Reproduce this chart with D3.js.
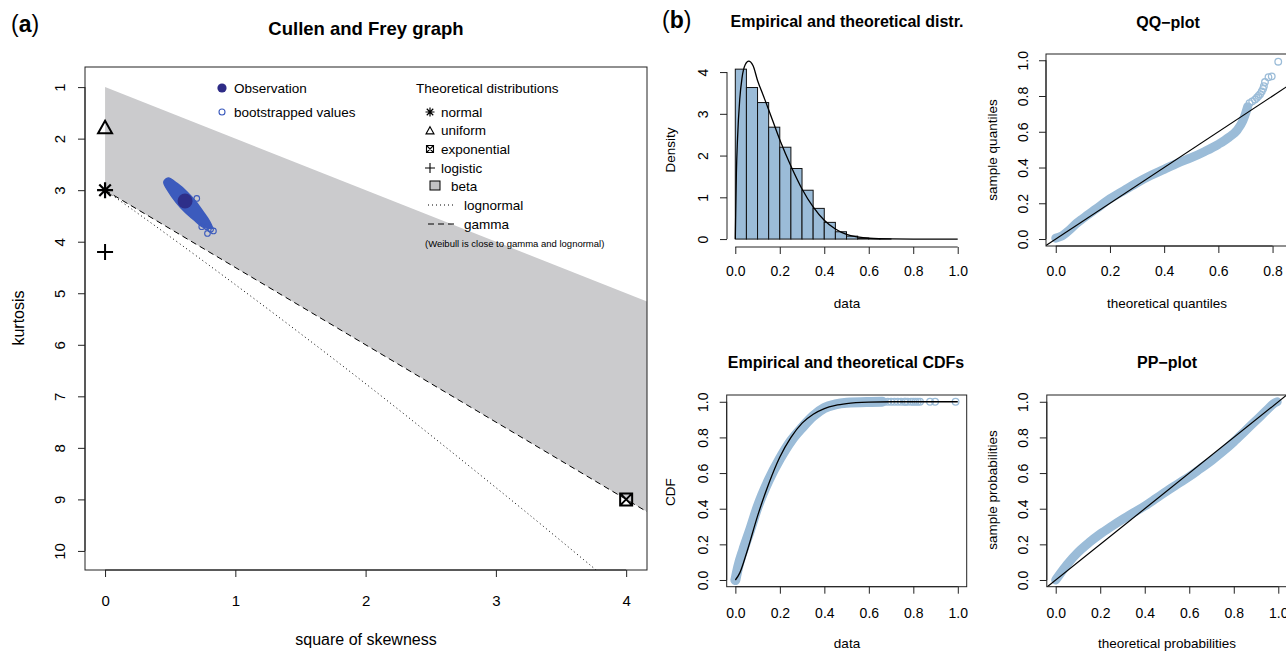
<!DOCTYPE html>
<html>
<head>
<meta charset="utf-8">
<script src="https://cdn.jsdelivr.net/npm/d3@7"></script>
<style>
  body { margin: 0; background: #fff; }
  svg text { font-family: "Liberation Sans", Arial, Helvetica, sans-serif; fill: #000; }
</style>
</head>
<body>
<svg id="fig" width="1286" height="651"></svg>
<script>
// ---------- (a) Cullen and Frey graph ----------
const cfXTicks = [0, 1, 2, 3, 4];
const cfYTicks = [1, 2, 3, 4, 5, 6, 7, 8, 9, 10];
const observation = [0.614, 3.21];
const normalPt = [0, 3];
const uniformPt = [0, 1.8];
const logisticPt = [0, 4.2];
const exponentialPt = [4, 9];
const betaRegion = [[0, 1], [4.16, 5.16], [4.16, 9.24], [0, 3]];
const gammaLine = [[0, 3], [4.16, 9.24]];
const lognormalLine = [[0, 3], [0.229, 3.41], [0.465, 3.84], [0.961, 4.76], [1.488, 5.76],
  [2.048, 6.85], [2.641, 8.04], [3.267, 9.32], [3.793, 10.42]];
// outline of the dense bootstrap cloud
const bootCloud = [[0.485, 2.765], [0.553, 2.87], [0.631, 3.039], [0.699, 3.229], [0.758, 3.439],
  [0.801, 3.6], [0.821, 3.728], [0.75, 3.716], [0.69, 3.594], [0.613, 3.423], [0.545, 3.233],
  [0.486, 3.024], [0.451, 2.841]];
const bootOutliers = [[0.704, 3.16], [0.781, 3.71], [0.786, 3.84], [0.832, 3.79], [0.742, 3.71], [0.81, 3.76]];

// ---------- (b) histogram + density ----------
const histBreaks = [0, 0.05, 0.1, 0.15, 0.2, 0.25, 0.3, 0.35, 0.4, 0.45, 0.5, 0.55, 0.6, 0.65, 0.7];
const histDensity = [4.07, 3.63, 3.27, 2.68, 2.2, 1.69, 1.17, 0.735, 0.4, 0.175, 0.07, 0.025, 0.01, 0.004];
const densityCurve = [[0, 0], [0.005, 1.6], [0.01, 2.4], [0.02, 3.35], [0.03, 3.85], [0.045, 4.18],
  [0.06, 4.26], [0.08, 4.15], [0.1, 3.8], [0.125, 3.45], [0.15, 3.1], [0.2, 2.38], [0.25, 1.75],
  [0.3, 1.2], [0.35, 0.77], [0.4, 0.45], [0.45, 0.24], [0.5, 0.11], [0.55, 0.05], [0.6, 0.02],
  [0.7, 0.003], [0.8, 0], [1, 0]];
const unitTicks = [0, 0.2, 0.4, 0.6, 0.8, 1];
const densTicks = [0, 1, 2, 3, 4];

// ---------- (b) QQ-plot ----------
const qqBand = [[0, 0.005], [0.02, 0.015], [0.05, 0.05], [0.077, 0.088], [0.1, 0.115], [0.15, 0.17],
  [0.2, 0.225], [0.25, 0.27], [0.3, 0.315], [0.35, 0.355], [0.4, 0.39], [0.45, 0.425], [0.5, 0.455],
  [0.55, 0.49], [0.6, 0.53], [0.64, 0.57], [0.67, 0.61], [0.69, 0.66], [0.7, 0.7], [0.708, 0.74]];
const qqTail = [[0.715, 0.76], [0.725, 0.77], [0.735, 0.78], [0.742, 0.79], [0.748, 0.8], [0.754, 0.81],
  [0.76, 0.825], [0.765, 0.84], [0.768, 0.855], [0.772, 0.878], [0.785, 0.905], [0.797, 0.91], [0.821, 0.992]];
const qqXTicks = [0, 0.2, 0.4, 0.6, 0.8];

// ---------- (b) CDFs ----------
const cdfBand = [[0, 0], [0.013, 0.075], [0.036, 0.17], [0.066, 0.28], [0.1, 0.41], [0.15, 0.56],
  [0.2, 0.68], [0.25, 0.78], [0.3, 0.855], [0.35, 0.92], [0.4, 0.965], [0.45, 0.985], [0.5, 0.994],
  [0.6, 0.999], [0.66, 1]];
const cdfTail = [0.67, 0.685, 0.7, 0.715, 0.73, 0.745, 0.76, 0.765, 0.775, 0.79, 0.8, 0.81, 0.82, 0.83, 0.875, 0.898, 0.99];
const cdfTheo = [[0, 0], [0.02, 0.04], [0.05, 0.15], [0.1, 0.36], [0.15, 0.54], [0.2, 0.69], [0.25, 0.8],
  [0.3, 0.88], [0.35, 0.93], [0.4, 0.962], [0.45, 0.98], [0.5, 0.99], [0.6, 0.998], [0.7, 1], [1, 1]];

// ---------- (b) PP-plot ----------
const ppBand = [[0, 0], [0.02, 0.035], [0.05, 0.085], [0.1, 0.155], [0.15, 0.21], [0.2, 0.258],
  [0.25, 0.3], [0.3, 0.34], [0.35, 0.378], [0.4, 0.415], [0.45, 0.457], [0.5, 0.5], [0.55, 0.54],
  [0.6, 0.58], [0.65, 0.625], [0.7, 0.67], [0.75, 0.72], [0.8, 0.775], [0.85, 0.835], [0.9, 0.895],
  [0.95, 0.955], [0.98, 0.99], [0.995, 1]];

const blueLight = "#9bbcd8";
const axisCol = "#222";

const svg = d3.select("#fig");
svg.append("rect").attr("width", 1286).attr("height", 651).attr("fill", "#fff");
const defs = svg.append("defs");

function clip(id, x, y, w, h) {
  defs.append("clipPath").attr("id", id).append("rect")
    .attr("x", x).attr("y", y).attr("width", w).attr("height", h);
  return `url(#${id})`;
}

function xAxis(scale, ticks, y, fmt, fs, off) {
  const g = svg.append("g").attr("transform", `translate(0,${y})`).attr("color", axisCol)
    .call(d3.axisBottom(scale).tickValues(ticks).tickSize(7).tickFormat(fmt));
  g.select(".domain").attr("d", `M${scale(ticks[0])},0H${scale(ticks[ticks.length - 1])}`);
  g.selectAll(".tick text").attr("y", off).attr("dy", null)
    .attr("dominant-baseline", "central").style("font-size", fs);
  return g;
}

function yAxis(scale, ticks, x, fmt, fs, off) {
  const g = svg.append("g").attr("transform", `translate(${x},0)`).attr("color", axisCol)
    .call(d3.axisLeft(scale).tickValues(ticks).tickSize(7).tickFormat(fmt));
  g.select(".domain").attr("d", `M0,${scale(ticks[0])}V${scale(ticks[ticks.length - 1])}`);
  g.selectAll(".tick text").attr("x", null).attr("dy", null)
    .attr("transform", `translate(${-off},0) rotate(-90)`)
    .attr("text-anchor", "middle").attr("dominant-baseline", "central").style("font-size", fs);
  return g;
}

function label(txt, x, y, fs, opts = {}) {
  const t = svg.append("text").attr("x", x).attr("y", y).text(txt)
    .attr("text-anchor", opts.anchor || "middle")
    .attr("dominant-baseline", opts.base || "central")
    .style("font-size", fs);
  if (opts.bold) t.style("font-weight", "bold");
  if (opts.rot) t.attr("x", 0).attr("y", 0).attr("transform", `translate(${x},${y}) rotate(-90)`);
  return t;
}

function box(x0, y0, x1, y1) {
  svg.append("rect").attr("x", x0).attr("y", y0).attr("width", x1 - x0).attr("height", y1 - y0)
    .attr("fill", "none").attr("stroke", axisCol).attr("stroke-width", 1);
}

// symbols
function star(g, x, y, s, w) {
  const k = s * 0.72;
  g.append("path").attr("d", `M${x - s},${y}H${x + s}M${x},${y - s}V${y + s}M${x - k},${y - k}L${x + k},${y + k}M${x - k},${y + k}L${x + k},${y - k}`)
    .attr("stroke", "#000").attr("stroke-width", w).attr("fill", "none");
}
function triangle(g, x, y, s, w) {
  const h = s * 0.9;
  g.append("path").attr("d", `M${x},${y - h * 0.6}L${x + s / 2},${y + h * 0.4}L${x - s / 2},${y + h * 0.4}Z`)
    .attr("stroke", "#000").attr("stroke-width", w).attr("fill", "none");
}
function plus(g, x, y, s, w) {
  g.append("path").attr("d", `M${x - s},${y}H${x + s}M${x},${y - s}V${y + s}`)
    .attr("stroke", "#000").attr("stroke-width", w).attr("fill", "none");
}
function boxX(g, x, y, s, w) {
  g.append("path").attr("d", `M${x - s},${y - s}H${x + s}V${y + s}H${x - s}ZM${x - s},${y - s}L${x + s},${y + s}M${x - s},${y + s}L${x + s},${y - s}`)
    .attr("stroke", "#000").attr("stroke-width", w).attr("fill", "none");
}

// ================= panel (a) =================
const ax = d3.scaleLinear().domain([-0.154, 4.16]).range([85, 647]);
const ay = d3.scaleLinear().domain([0.61, 10.37]).range([67, 570]);
const lineA = d3.line().x(d => ax(d[0])).y(d => ay(d[1]));
const gA = svg.append("g").attr("clip-path", clip("clipA", 85, 67, 562, 503));

gA.append("path").attr("d", lineA(betaRegion) + "Z").attr("fill", "#cbcbcd");
gA.append("path").attr("d", lineA(gammaLine)).attr("fill", "none")
  .attr("stroke", "#000").attr("stroke-width", 1).attr("stroke-dasharray", "6,4");
gA.append("path").attr("d", lineA.curve(d3.curveCatmullRom)(lognormalLine)).attr("fill", "none")
  .attr("stroke", "#000").attr("stroke-width", 1).attr("stroke-dasharray", "1,3");
lineA.curve(d3.curveLinear);

gA.append("path").attr("d", d3.line().x(d => ax(d[0])).y(d => ay(d[1])).curve(d3.curveCatmullRomClosed)(bootCloud))
  .attr("fill", "#3c5bbd").attr("stroke", "#3c5bbd").attr("stroke-width", 1.5)
  .attr("stroke-linejoin", "round");
gA.selectAll(".bo").data(bootOutliers).join("circle")
  .attr("cx", d => ax(d[0])).attr("cy", d => ay(d[1])).attr("r", 2.8)
  .attr("fill", "none").attr("stroke", "#3c5bbd").attr("stroke-width", 1.1);
gA.append("circle").attr("cx", ax(observation[0])).attr("cy", ay(observation[1])).attr("r", 7.5)
  .attr("fill", "#2e2b86").attr("opacity", 0.92);

star(gA, ax(normalPt[0]), ay(normalPt[1]), 8, 2.2);
triangle(gA, ax(uniformPt[0]), ay(uniformPt[1]), 14, 2);
plus(gA, ax(logisticPt[0]), ay(logisticPt[1]), 8, 2);
boxX(gA, ax(exponentialPt[0]), ay(exponentialPt[1]), 6, 2);

box(85, 67, 647, 570);
xAxis(ax, cfXTicks, 570, d3.format("d"), "15px", 30);
yAxis(ay, cfYTicks, 85, d3.format("d"), "15px", 26);

label("Cullen and Frey graph", 366, 35, "18.5px", { bold: true, base: "alphabetic" });
const la = svg.append("text").attr("x", 11).attr("y", 32).style("font-size", "23px");
la.append("tspan").text("(");
la.append("tspan").text("a").style("font-weight", "bold");
la.append("tspan").text(")");
label("square of skewness", 366, 639, "16px");
label("kurtosis", 18, 318, "16px", { rot: true });

// legend
const lg = svg.append("g");
lg.append("circle").attr("cx", 222).attr("cy", 88).attr("r", 4.6).attr("fill", "#2e2b86");
lg.append("circle").attr("cx", 222).attr("cy", 112).attr("r", 3).attr("fill", "none")
  .attr("stroke", "#3c5bbd").attr("stroke-width", 1.1);
label("Observation", 234, 88, "13.5px", { anchor: "start" });
label("bootstrapped values", 234, 112, "13.5px", { anchor: "start" });
label("Theoretical distributions", 416, 88, "13.5px", { anchor: "start" });
star(lg, 430, 112, 4.5, 1.2);
triangle(lg, 430, 131, 8, 1.1);
boxX(lg, 430, 149, 3.5, 1.1);
plus(lg, 430, 168, 5, 1.1);
lg.append("rect").attr("x", 430).attr("y", 181).attr("width", 10).attr("height", 9)
  .attr("fill", "#c2c2c4").attr("stroke", "#000").attr("stroke-width", 1);
lg.append("line").attr("x1", 428).attr("x2", 454).attr("y1", 205).attr("y2", 205)
  .attr("stroke", "#000").attr("stroke-dasharray", "1,3");
lg.append("line").attr("x1", 428).attr("x2", 454).attr("y1", 224).attr("y2", 224)
  .attr("stroke", "#000").attr("stroke-dasharray", "6,4");
label("normal", 441, 112, "13.5px", { anchor: "start" });
label("uniform", 441, 130, "13.5px", { anchor: "start" });
label("exponential", 441, 149, "13.5px", { anchor: "start" });
label("logistic", 441, 168, "13.5px", { anchor: "start" });
label("beta", 451, 186, "13.5px", { anchor: "start" });
label("lognormal", 464, 205, "13.5px", { anchor: "start" });
label("gamma", 464, 224, "13.5px", { anchor: "start" });
label("(Weibull is close to gamma and lognormal)", 425, 243, "9.5px", { anchor: "start" });

// ================= panel (b) =================
const lb = svg.append("text").attr("x", 662).attr("y", 28).style("font-size", "23px");
lb.append("tspan").text("(");
lb.append("tspan").text("b").style("font-weight", "bold");
lb.append("tspan").text(")");

// histogram
const hx = d3.scaleLinear().domain([-0.04, 1.04]).range([726.4, 966.6]);
const hy = d3.scaleLinear().domain([-0.19, 4.96]).range([247, 32]);
svg.append("g").selectAll("rect").data(histDensity).join("rect")
  .attr("x", (d, i) => hx(histBreaks[i]))
  .attr("width", (d, i) => hx(histBreaks[i + 1]) - hx(histBreaks[i]))
  .attr("y", d => hy(d)).attr("height", d => hy(0) - hy(d))
  .attr("fill", blueLight).attr("stroke", "#111").attr("stroke-width", 1);
svg.append("path").attr("d", d3.line().x(d => hx(d[0])).y(d => hy(d[1])).curve(d3.curveMonotoneX)(densityCurve))
  .attr("fill", "none").attr("stroke", "#000").attr("stroke-width", 1.3);
xAxis(hx, unitTicks, 247, d3.format(".1f"), "14px", 24);
yAxis(hy, densTicks, 727, d3.format("d"), "14px", 24);
label("Empirical and theoretical distr.", 847, 27, "16px", { bold: true, base: "alphabetic" });
label("data", 847, 303, "13.5px");
label("Density", 670, 150, "13.5px", { rot: true });

// QQ-plot
const qx = d3.scaleLinear().domain([-0.036, 0.95]).range([1046, 1313.2]);
const qy = d3.scaleLinear().domain([-0.039, 1.035]).range([246, 54]);
const gQ = svg.append("g").attr("clip-path", clip("clipQ", 1046, 54, 268, 192));
gQ.append("path").attr("d", d3.line().x(d => qx(d[0])).y(d => qy(d[1])).curve(d3.curveMonotoneX)(qqBand))
  .attr("fill", "none").attr("stroke", blueLight).attr("stroke-width", 9)
  .attr("stroke-linecap", "round").attr("stroke-linejoin", "round");
gQ.selectAll("circle").data(qqTail).join("circle")
  .attr("cx", d => qx(d[0])).attr("cy", d => qy(d[1])).attr("r", 3.3)
  .attr("fill", "none").attr("stroke", blueLight).attr("stroke-width", 1.3);
gQ.append("line").attr("x1", qx(-0.05)).attr("y1", qy(-0.05)).attr("x2", qx(1.1)).attr("y2", qy(1.1))
  .attr("stroke", "#000").attr("stroke-width", 1.2);
box(1046, 54, 1313.2, 246);
xAxis(qx, qqXTicks, 246, d3.format(".1f"), "14px", 25);
yAxis(qy, unitTicks, 1046, d3.format(".1f"), "14px", 23);
label("QQ\u2212plot", 1168, 28, "16px", { bold: true, base: "alphabetic" });
label("theoretical quantiles", 1167, 303, "13.5px");
label("sample quantiles", 992, 150, "13.5px", { rot: true });

// CDFs
const cx = d3.scaleLinear().domain([-0.039, 1.04]).range([726.7, 966.7]);
const cy = d3.scaleLinear().domain([-0.0376, 1.038]).range([586.7, 395]);
const gC = svg.append("g").attr("clip-path", clip("clipC", 726.7, 395, 240, 191.7));
gC.append("path").attr("d", d3.line().x(d => cx(d[0])).y(d => cy(d[1])).curve(d3.curveMonotoneX)(cdfBand))
  .attr("fill", "none").attr("stroke", blueLight).attr("stroke-width", 10)
  .attr("stroke-linecap", "round").attr("stroke-linejoin", "round");
gC.selectAll("circle").data(cdfTail).join("circle")
  .attr("cx", d => cx(d)).attr("cy", cy(1)).attr("r", 3.3)
  .attr("fill", "none").attr("stroke", blueLight).attr("stroke-width", 1.3);
gC.append("path").attr("d", d3.line().x(d => cx(d[0])).y(d => cy(d[1])).curve(d3.curveMonotoneX)(cdfTheo))
  .attr("fill", "none").attr("stroke", "#000").attr("stroke-width", 1.3);
box(726.7, 395, 966.7, 586.7);
xAxis(cx, unitTicks, 586.7, d3.format(".1f"), "14px", 26);
yAxis(cy, unitTicks, 726.7, d3.format(".1f"), "14px", 24);
label("Empirical and theoretical CDFs", 846, 368, "16px", { bold: true, base: "alphabetic" });
label("data", 847, 643, "13.5px");
label("CDF", 670, 492, "13.5px", { rot: true });

// PP-plot
const px = d3.scaleLinear().domain([-0.04, 1.04]).range([1046.8, 1287.2]);
const py = d3.scaleLinear().domain([-0.0376, 1.038]).range([586.7, 395]);
const gP = svg.append("g").attr("clip-path", clip("clipP", 1046.8, 395, 240.4, 191.7));
gP.append("path").attr("d", d3.line().x(d => px(d[0])).y(d => py(d[1])).curve(d3.curveMonotoneX)(ppBand))
  .attr("fill", "none").attr("stroke", blueLight).attr("stroke-width", 9)
  .attr("stroke-linecap", "round").attr("stroke-linejoin", "round");
gP.append("line").attr("x1", px(-0.05)).attr("y1", py(-0.05)).attr("x2", px(1.1)).attr("y2", py(1.1))
  .attr("stroke", "#000").attr("stroke-width", 1.2);
box(1046.8, 395, 1287.2, 586.7);
xAxis(px, unitTicks, 586.7, d3.format(".1f"), "14px", 26);
yAxis(py, unitTicks, 1046.8, d3.format(".1f"), "14px", 24);
label("PP\u2212plot", 1167, 368, "16px", { bold: true, base: "alphabetic" });
label("theoretical probabilities", 1167, 643, "13.5px");
label("sample probabilities", 992, 490, "13.5px", { rot: true });
</script>
</body>
</html>
